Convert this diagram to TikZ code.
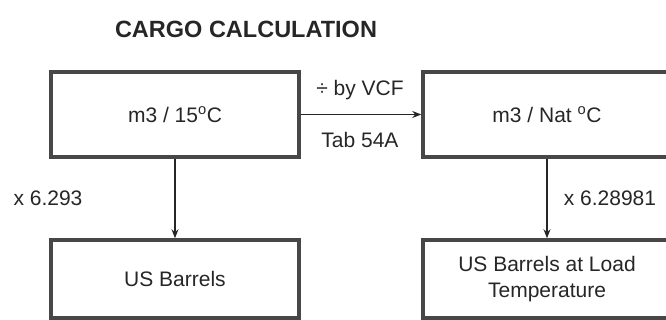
\documentclass[tikz,border=0pt]{standalone}
\usepackage{fontspec}
\setmainfont{Liberation Sans}
\usetikzlibrary{arrows.meta}
\begin{document}
\begin{tikzpicture}[x=1pt,y=-1pt,
  box/.style={draw=black!72, line width=3.5pt, minimum width=248pt, inner sep=0pt,
    font=\fontsize{21}{26}\selectfont, align=center, text=black!85},
  lbl/.style={font=\fontsize{21}{25}\selectfont, text=black!85},
  conn/.style={line width=1.3pt, draw=black!85, -{Stealth[length=9pt,width=7pt]}}]
\useasboundingbox (0,0) rectangle (666,320);
\clip (0,0) rectangle (666,320);
\node[font=\fontsize{23.5}{28}\selectfont\bfseries, text=black!85] (title) at (246,29) {CARGO CALCULATION};
\node[box, minimum height=85pt] (a) at (175,114.5) {m3 / 15\textsuperscript{o}C};
\node[box, minimum height=85pt] (b) at (547,114.5) {m3 / Nat \textsuperscript{o}C};
\node[box, minimum height=78pt] (c) at (175,279) {US Barrels};
\node[box, minimum height=78pt] (d) at (547,279) {US Barrels at Load\\Temperature};
\draw[conn] (a.east) -- (b.west);
\draw[conn] (a.south) -- (c.north);
\draw[conn] (b.south) -- (d.north);
\node[lbl] (vcf) at (360,90) {÷ by VCF};
\node[lbl] (tab) at (360,140) {Tab 54A};
\node[lbl] (f1) at (48,198) {x 6.293};
\node[lbl] (f2) at (610,198) {x 6.28981};
\end{tikzpicture}
\end{document}
